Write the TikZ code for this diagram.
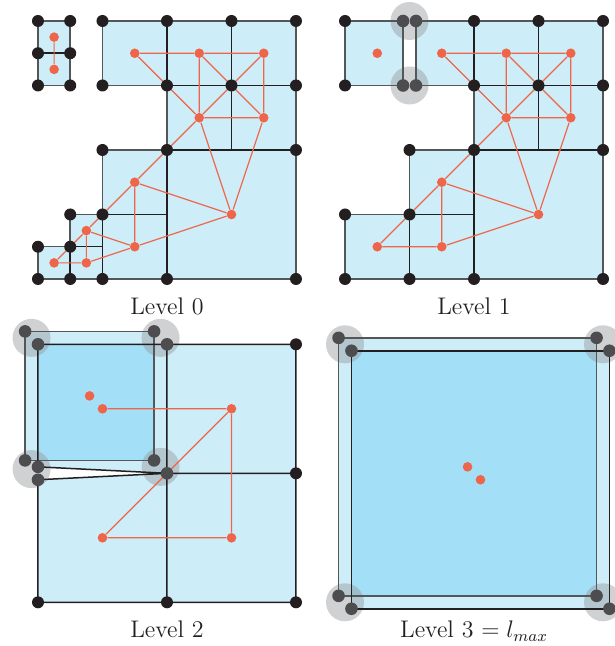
\documentclass[tikz,border=0pt]{standalone}
\usetikzlibrary{positioning}
\definecolor{ink}{HTML}{231F20}
\definecolor{rim}{HTML}{555658}
\definecolor{cellblue}{HTML}{CDEDF8}
\definecolor{deepblue}{HTML}{A3E0F7}
\definecolor{dual}{HTML}{EF6549}
\definecolor{merged}{HTML}{4D4D4F}
\definecolor{halogray}{HTML}{96989C}
\tikzset{vtx/.style={circle,fill=ink,inner sep=0pt,minimum size=6pt},hvtx/.style={vtx,fill=merged,minimum size=6.3pt},cellpt/.style={circle,fill=dual,inner sep=0pt,minimum size=4.8pt},dualedge/.style={draw=dual,line width=.6pt},gridline/.style={draw=ink,line width=.75pt},rimline/.style={draw=rim,line width=.75pt},haloring/.style={fill=halogray,fill opacity=.45},lvl/.style={font=\large,text=ink,anchor=base}}

\begin{document}
\begin{tikzpicture}[x=16.125pt,y=-16.125pt]
\useasboundingbox (0,0) rectangle (19.039,20.031);
% level 0
\begin{scope}[shift={(1.178,0.651)}]
\fill[cellblue] (0,0) rectangle (1,2);
\fill[cellblue] (2,0) -- (8,0) -- (8,8) -- (0,8) -- (0,7) -- (1,7) -- (1,6) -- (2,6) -- (2,4) -- (4,4) -- (4,2) -- (2,2) -- cycle;
\draw[rimline] (0,0) rectangle (1,2) (2,0) -- (8,0) -- (8,8) -- (0,8) -- (0,7) -- (1,7) -- (1,6) -- (2,6) -- (2,4) -- (4,4) -- (4,2) -- (2,2) -- cycle;
\draw[gridline] (0,1) -- (1,1) (4,0) -- (4,2) (6,0) -- (6,4) (4,2) -- (8,2) (4,4) -- (8,4) (4,4) -- (4,8) (2,6) -- (4,6) (2,6) -- (2,8) (1,7) -- (2,7) (1,7) -- (1,8);
\foreach \n/\p in {1/{0.5,0.5},2/{0.5,1.5},3/{3,1},4/{5,1},5/{7,1},6/{5,3},7/{7,3},8/{3,5},9/{6,6},10/{3,7},11/{1.5,6.5},12/{1.5,7.5},13/{0.5,7.5}}
  \node[cellpt] (a\n) at (\p) {};
\draw[dualedge] (a1) -- (a2) (a3) -- (a4) -- (a5) (a3) -- (a6) (a4) -- (a6) (a4) -- (a7) (a5) -- (a6) (a5) -- (a7) (a6) -- (a7)
  (a6) -- (a8) (a6) -- (a9) (a7) -- (a9) (a8) -- (a9) (a8) -- (a10) (a8) -- (a11) (a11) -- (a10) (a11) -- (a12) (a11) -- (a13)
  (a13) -- (a12) (a12) -- (a10) (a10) -- (a9);
\foreach \p [count=\i] in {{0,0},{1,0},{0,1},{1,1},{0,2},{1,2},{2,0},{4,0},{6,0},{8,0},{2,2},{4,2},{6,2},{8,2},{2,4},{4,4},{8,4},{1,6},{2,6},{0,7},{1,7},{0,8},{1,8},{2,8},{4,8},{8,8}}
  \node[vtx] (a-v\i) at (\p) {};
\node[lvl] (lab0) at (4,9.1) {Level 0};
\end{scope}
% level 1
\begin{scope}[shift={(10.698,0.651)}]
\fill[cellblue] (0,0) rectangle (1.8,2);
\fill[cellblue] (2.2,0) -- (8,0) -- (8,8) -- (0,8) -- (0,6) -- (2,6) -- (2,4) -- (4,4) -- (4,2) -- (2.2,2) -- cycle;
\fill[haloring] (2,0) circle[radius=9.5pt] (2,2) circle[radius=9.5pt];
\draw[rimline] (0,0) rectangle (1.8,2) (2.2,0) -- (8,0) -- (8,8) -- (0,8) -- (0,6) -- (2,6) -- (2,4) -- (4,4) -- (4,2) -- (2.2,2) -- cycle;
\draw[gridline] (4,0) -- (4,2) (6,0) -- (6,4) (4,2) -- (8,2) (4,4) -- (8,4) (4,4) -- (4,8) (2,6) -- (4,6) (2,6) -- (2,8);
\foreach \n/\p in {1/{1,1},2/{3,1},3/{5,1},4/{7,1},5/{5,3},6/{7,3},7/{3,5},8/{6,6},9/{3,7},10/{1,7}}
  \node[cellpt] (b\n) at (\p) {};
\draw[dualedge] (b2) -- (b3) -- (b4) (b2) -- (b5) (b3) -- (b5) (b3) -- (b6) (b4) -- (b5) (b4) -- (b6) (b5) -- (b6)
  (b5) -- (b7) (b5) -- (b8) (b6) -- (b8) (b7) -- (b8) (b7) -- (b9) (b7) -- (b10) (b10) -- (b9) (b9) -- (b8);
\foreach \p [count=\i] in {{1.8,0},{2.2,0},{1.8,2},{2.2,2}}
  \node[hvtx] (b-h\i) at (\p) {};
\foreach \p [count=\i] in {{0,0},{4,0},{6,0},{8,0},{0,2},{4,2},{6,2},{8,2},{2,4},{4,4},{8,4},{0,6},{2,6},{0,8},{2,8},{4,8},{8,8}}
  \node[vtx] (b-v\i) at (\p) {};
\node[lvl] (lab1) at (4,9.1) {Level 1};
\end{scope}
% level 2
\begin{scope}[shift={(1.178,10.676)}]
\fill[cellblue] (0,0) -- (8,0) -- (8,8) -- (0,8) -- (0,4.2) -- (4,4) -- (0,3.8) -- cycle;
\fill[cellblue] (-0.4,-0.4) rectangle (3.6,3.6);
\fill[deepblue] (0,0) rectangle (3.6,3.6);
\fill[haloring] (-0.2,-0.2) circle[radius=9.5pt] (3.8,-0.2) circle[radius=9.5pt] (3.8,3.8) circle[radius=9.5pt] (-0.2,3.87) circle[radius=9.5pt];
\draw[rimline] (-0.4,-0.4) rectangle (3.6,3.6);
\draw[gridline] (0,0) -- (8,0) -- (8,8) -- (0,8) -- (0,4.2) -- (4,4) -- (0,3.8) -- cycle (4,0) -- (4,8) (4,4) -- (8,4);
\foreach \n/\p in {1/{1.6,1.6},2/{2,2},3/{6,2},4/{2,6},5/{6,6}}
  \node[cellpt] (c\n) at (\p) {};
\draw[dualedge] (c2) -- (c3) -- (c5) (c3) -- (c4) -- (c5);
\foreach \p [count=\i] in {{-0.4,-0.4},{3.6,-0.4},{-0.4,3.6},{3.6,3.6},{0,0},{4,0},{0,3.8},{4,4},{0,4.2}}
  \node[hvtx] (c-h\i) at (\p) {};
\foreach \p [count=\i] in {{8,0},{8,4},{0,8},{4,8},{8,8}}
  \node[vtx] (c-v\i) at (\p) {};
\node[lvl] (lab2) at (4,9.1) {Level 2};
\end{scope}
% level 3
\begin{scope}[shift={(10.698,10.676)}]
\fill[cellblue] (-0.2,-0.2) rectangle (7.8,7.8) (0.2,0.2) rectangle (8.2,8.2);
\fill[deepblue] (0.2,0.2) rectangle (7.8,7.8);
\fill[haloring] (0,0) circle[radius=9.5pt] (8,0) circle[radius=9.5pt] (0,8) circle[radius=9.5pt] (8,8) circle[radius=9.5pt];
\draw[rimline] (-0.2,-0.2) rectangle (7.8,7.8);
\draw[gridline] (0.2,0.2) rectangle (8.2,8.2);
\node[cellpt] (d1) at (3.8,3.8) {};
\node[cellpt] (d2) at (4.2,4.2) {};
\foreach \p [count=\i] in {{-0.2,-0.2},{7.8,-0.2},{-0.2,7.8},{7.8,7.8},{0.2,0.2},{8.2,0.2},{0.2,8.2},{8.2,8.2}}
  \node[hvtx] (d-h\i) at (\p) {};
\node[lvl] (lab3) at (4,9.1) {Level 3 $= l_{max}$};
\end{scope}
\end{tikzpicture}
\end{document}
